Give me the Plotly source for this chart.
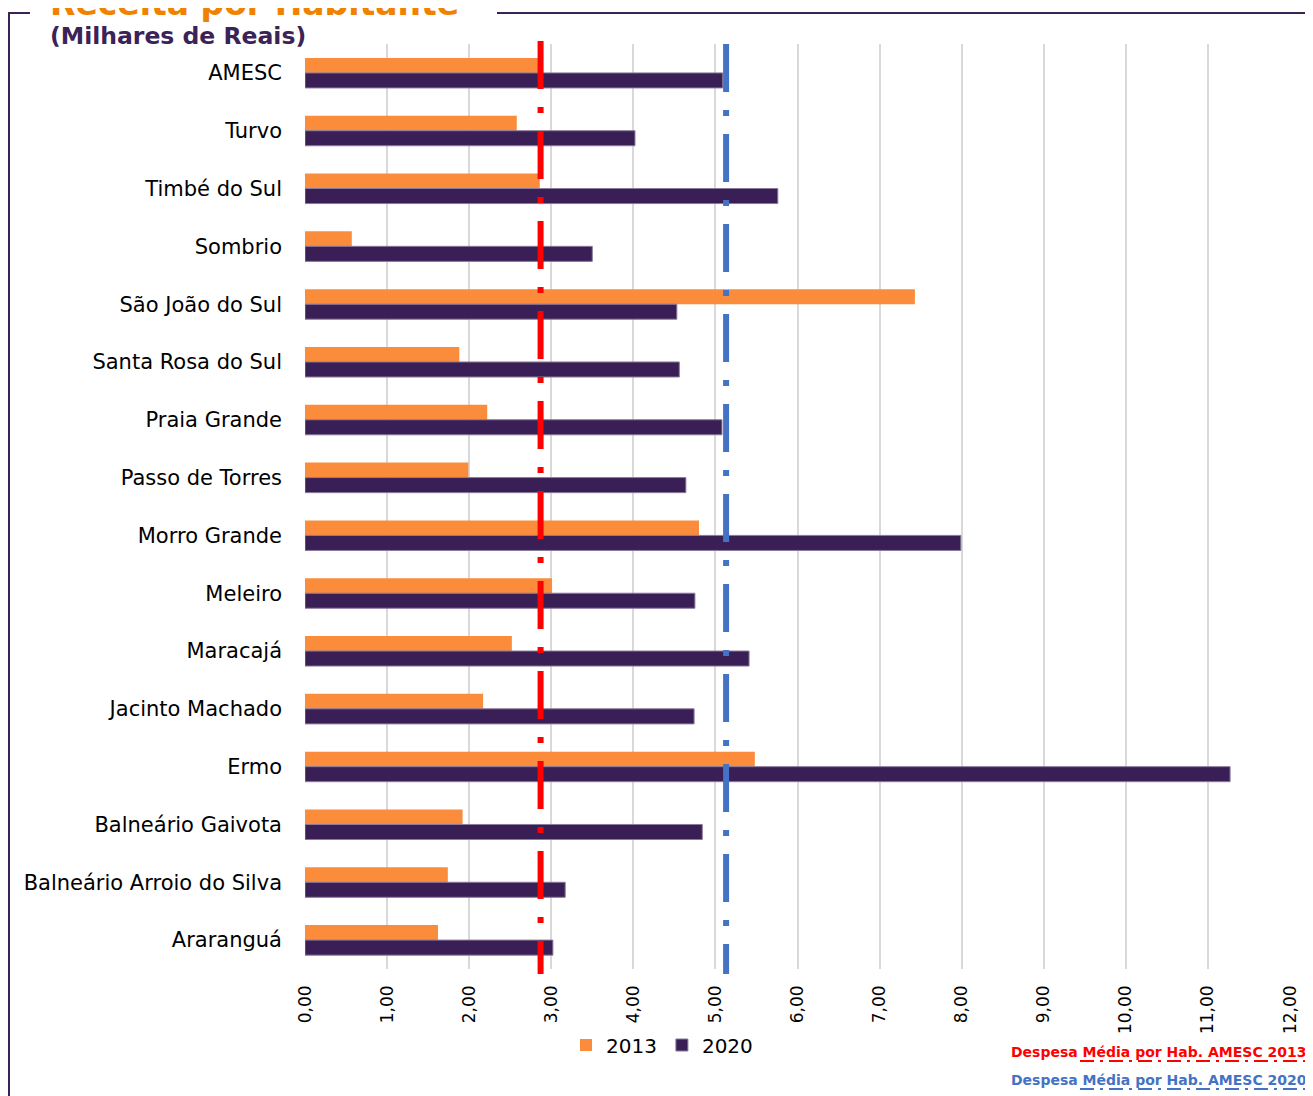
import plotly.graph_objects as go

categories = ["AMESC", "Turvo", "Timbé do Sul", "Sombrio", "São João do Sul",
              "Santa Rosa do Sul", "Praia Grande", "Passo de Torres", "Morro Grande",
              "Meleiro", "Maracajá", "Jacinto Machado", "Ermo", "Balneário Gaivota",
              "Balneário Arroio do Silva", "Araranguá"]
values_2013 = [2.87, 2.58, 2.86, 0.57, 7.43, 1.88, 2.22, 1.99, 4.80, 3.01, 2.52, 2.17,
               5.48, 1.92, 1.74, 1.62]
values_2020 = [5.09, 4.02, 5.76, 3.50, 4.53, 4.56, 5.08, 4.64, 7.99, 4.75, 5.41, 4.74,
               11.27, 4.84, 3.17, 3.02]
avg_2013 = 2.87
avg_2020 = 5.13
x_ticks = [0, 1, 2, 3, 4, 5, 6, 7, 8, 9, 10, 11, 12]

ORANGE = "#FA8C3B"
PURPLE = "#3A1F56"
FONT = "DejaVu Sans, sans-serif"

OFF = 8  # page body margin
W, H = 1313 - OFF, 1096 - OFF
PL, PR, PT, PB = 305, 1290, 44, 969  # plot area in reference pixels
ML, MR, MT, MB = PL - OFF, (W + OFF) - PR, PT - OFF, (H + OFF) - PB
PW, PH = PR - PL, PB - PT

def px(x):
    return (x - PL) / PW

def py(y):
    return (PB - y) / PH

fig = go.Figure()
fig.add_trace(go.Bar(y=categories, x=values_2013, name="2013", orientation="h",
                     marker=dict(color=ORANGE, line=dict(width=0))))
fig.add_trace(go.Bar(y=categories, x=values_2020, name="2020", orientation="h",
                     marker=dict(color=PURPLE, line=dict(width=1, color="#8a7a9a"))))

shapes = [
    dict(type="line", xref="x", yref="paper", x0=avg_2013, x1=avg_2013, y0=py(41), y1=py(974),
         line=dict(color="#FF0000", width=6, dash="48px,18px,6px,18px"), layer="above"),
    dict(type="line", xref="x", yref="paper", x0=avg_2020, x1=avg_2020, y0=py(44), y1=py(974),
         line=dict(color="#4472C4", width=6, dash="48px,18px,6px,18px"), layer="above"),
    # frame
    dict(type="line", xref="paper", yref="paper", x0=px(9), x1=px(9), y0=py(12), y1=py(1100),
         line=dict(color="#3B2257", width=2)),
    dict(type="line", xref="paper", yref="paper", x0=px(8), x1=px(30), y0=py(13), y1=py(13),
         line=dict(color="#3B2257", width=2)),
    dict(type="line", xref="paper", yref="paper", x0=px(497), x1=px(1320), y0=py(13), y1=py(13),
         line=dict(color="#3B2257", width=2)),
    # legend-like dash underlines
    dict(type="line", xref="paper", yref="paper", x0=px(1080), x1=px(1307), y0=py(1061), y1=py(1061),
         line=dict(color="#FF0000", width=2, dash="14px,6px,3px,6px")),
    dict(type="line", xref="paper", yref="paper", x0=px(1080), x1=px(1307), y0=py(1089), y1=py(1089),
         line=dict(color="#4472C4", width=2, dash="14px,6px,3px,6px")),
]

annotations = [
    dict(text="<b>Receita por Habitante</b>", xref="paper", yref="paper", x=px(48), y=py(25),
         xanchor="left", yanchor="bottom", showarrow=False,
         font=dict(family="DejaVu Sans", size=33, color="#F08200")),
    dict(text="<b>(Milhares de Reais)</b>", xref="paper", yref="paper", x=px(48), y=py(36),
         xanchor="left", yanchor="middle", showarrow=False,
         font=dict(family="DejaVu Sans", size=23.5, color="#3B2257")),
    dict(text="<b>Despesa Média por Hab. AMESC 2013</b>", xref="paper", yref="paper",
         x=px(1309), y=py(1052), xanchor="right", yanchor="middle", showarrow=False,
         font=dict(family="DejaVu Sans", size=14, color="#FF0000")),
    dict(text="<b>Despesa Média por Hab. AMESC 2020</b>", xref="paper", yref="paper",
         x=px(1309), y=py(1080), xanchor="right", yanchor="middle", showarrow=False,
         font=dict(family="DejaVu Sans", size=14, color="#4472C4")),
]

fig.update_layout(
    width=W, height=H,
    margin=dict(l=ML, r=MR, t=MT, b=MB, pad=0),
    paper_bgcolor="white", plot_bgcolor="white",
    barmode="group", bargap=0.48, bargroupgap=0,
    separators=",.",
    font=dict(family=FONT, color="#000000"),
    showlegend=True,
    legend=dict(orientation="h", x=px(662), y=py(1045), xanchor="center", yanchor="middle",
                font=dict(family=FONT, size=20, color="#000000"), itemwidth=30,
                traceorder="normal"),
    shapes=shapes, annotations=annotations,
)
fig.update_xaxes(range=[0, 12], tickvals=x_ticks, tickformat=".2f", tickangle=-90,
                 showgrid=True, gridcolor="#D9D9D9", gridwidth=2, zeroline=False,
                 showline=False, ticks="", ticklabelstandoff=12,
                 tickfont=dict(family=FONT, size=17, color="#000000"))
fig.update_yaxes(autorange="reversed", showgrid=False, zeroline=False, showline=False,
                 ticks="", ticklabelstandoff=22,
                 tickfont=dict(family=FONT, size=21, color="#000000"))

fig.write_html("out.html")
